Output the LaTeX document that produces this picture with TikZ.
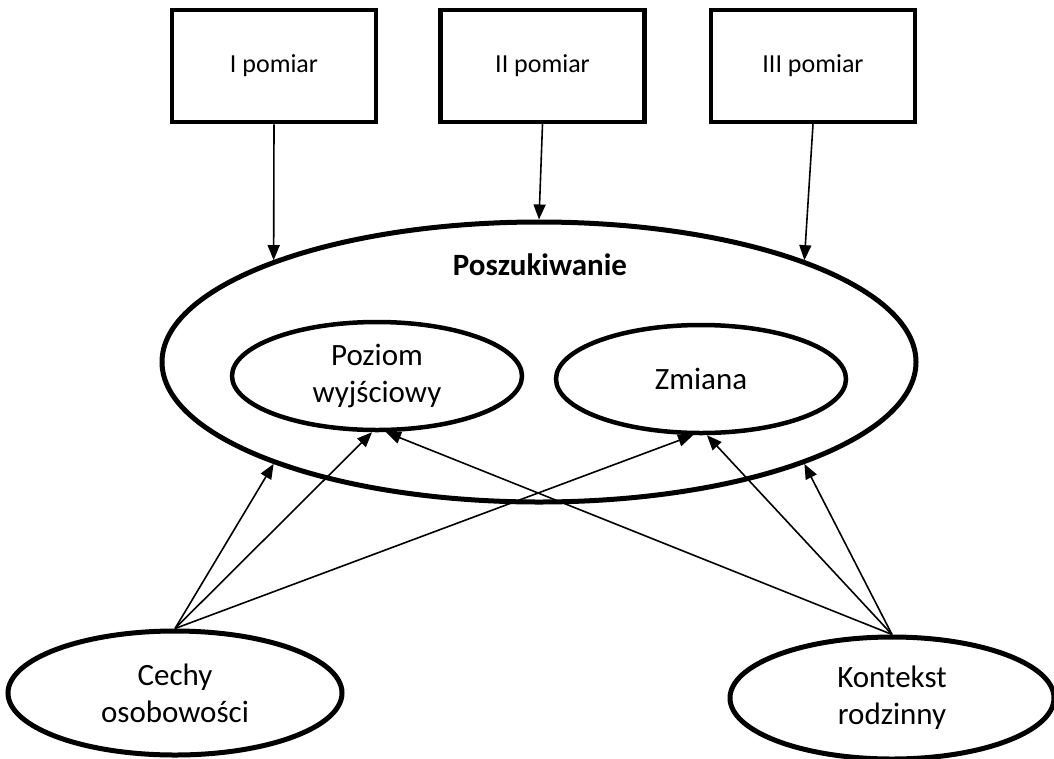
\documentclass[tikz,border=0pt]{standalone}
\usepackage{fontspec}
\setmainfont{Carlito}
\usetikzlibrary{shapes.geometric,arrows.meta,positioning}

\begin{document}
\begin{tikzpicture}[x=1pt,y=-1pt,
   pomiar/.style={draw=black,line width=4.5pt,minimum width=204pt,minimum height=112pt,font=\fontsize{26}{31}\selectfont},
   owal/.style={draw=black,ellipse,line width=4.5pt,inner sep=0pt,align=center,font=\fontsize{31}{37}\selectfont},
   strz/.style={line width=1.6pt,-{Triangle[length=15pt,width=12pt]}}]
      \useasboundingbox (0,0) rectangle (1054,758);

      \node[pomiar,name=p1] at (274,66) {I pomiar};
      \node[pomiar,name=p2, right=60pt of p1] {II pomiar};
      \node[pomiar,name=p3, right=62pt of p2] {III pomiar};

      \node[owal,name=szuk,minimum width=754pt,minimum height=280pt,line width=5pt] at (539,362) {};
      \node[name=tytul,font=\fontsize{31}{37}\selectfont\bfseries] at (540,265) {Poszukiwanie};
      \node[owal,name=poziom,minimum width=290pt,minimum height=108pt] at (377,376) {Poziom\\wyjściowy};
      \node[owal,name=zmiana,minimum width=290pt,minimum height=108pt] at (701,379) {Zmiana};

      \node[owal,name=cechy,minimum width=334pt,minimum height=124pt,line width=5pt] at (175,693) {Cechy\\osobowości};
      \node[owal,name=kontekst,minimum width=324pt,minimum height=122pt,line width=5pt] at (892,698) {Kontekst\\rodzinny};

      \path[strz]
         (p1.south) edge (szuk.159)
         (p2.south) edge (szuk.north)
         (p3.south) edge (szuk.21)
         (cechy.north) edge (szuk.201)
         (cechy.north) edge (poziom.265)
         (cechy.north) edge (zmiana.262)
         (kontekst.north) edge (poziom.279)
         (kontekst.north) edge (zmiana.276)
         (kontekst.north) edge (szuk.339);
   \end{tikzpicture}
\end{document}
